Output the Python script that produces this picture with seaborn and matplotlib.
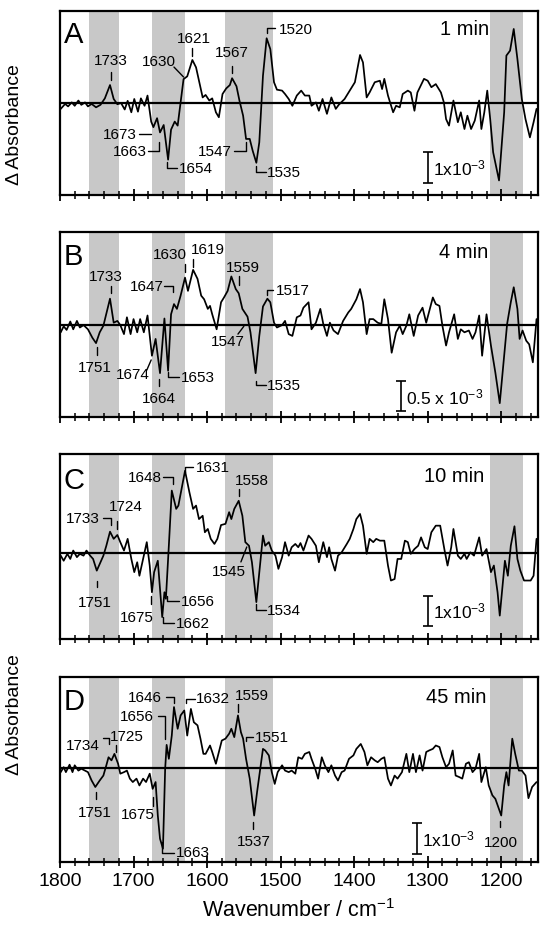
import numpy as np
import pandas as pd
import matplotlib
matplotlib.use("Agg")
import matplotlib.pyplot as plt
import seaborn as sns
from matplotlib.ticker import MultipleLocator

# ---------------- data (absorbance in units of 1e-3) ----------------
A_wn = [1799,1793,1789,1784,1780,1775,1771,1766,1762,1757,
        1751,1745,1739,1732,1727,1722,1717,1712,1708,1703,
        1699,1694,1690,1685,1681,1676,1673,1668,1664,1659,
        1653,1649,1644,1640,1632,1627,1620,1615,1611,1606,
        1602,1597,1593,1588,1584,1579,1574,1569,1566,1560,
        1556,1551,1547,1542,1538,1533,1529,1524,1519,1514,
        1509,1505,1498,1494,1489,1484,1478,1472,1467,1461,
        1458,1452,1448,1443,1437,1431,1425,1421,1413,1406,
        1399,1392,1388,1383,1379,1372,1365,1362,1359,1354,
        1347,1343,1338,1334,1327,1323,1318,1314,1305,1300,
        1295,1289,1282,1278,1275,1271,1265,1259,1255,1250,
        1246,1241,1236,1230,1227,1223,1219,1215,1211,1203,
        1196,1193,1188,1183,1178,1172,1167,1161,1156,1152]
A_val = [-0.19,-0.03,-0.11,0.02,-0.09,0.08,-0.06,0.02,-0.11,-0.03,
         -0.14,-0.06,0.15,0.58,0.13,-0.04,0.0,-0.21,0.07,-0.30,
         0.13,-0.28,0.15,-0.09,0.24,-0.60,-0.78,-0.49,-0.95,-0.71,
         -1.83,-0.86,-0.60,-0.73,0.77,0.86,1.39,1.15,0.72,0.18,
         0.26,0.08,0.15,-0.30,-0.46,0.29,0.47,0.58,0.80,0.54,
         0.08,-0.41,-1.16,-1.16,-1.54,-1.93,-1.27,0.88,2.09,1.74,
         0.67,0.43,0.40,0.29,0.13,-0.09,0.24,0.40,0.24,0.24,
         -0.09,0.02,-0.25,0.13,-0.35,0.18,-0.19,-0.06,0.13,0.40,
         0.67,1.55,1.31,0.18,0.34,0.67,0.72,0.45,0.78,0.24,
         -0.30,-0.09,-0.14,0.29,0.40,0.34,-0.25,0.34,0.78,0.72,
         0.51,0.61,0.34,0.02,-0.52,-0.73,0.08,-0.62,-0.30,-0.84,
         -0.41,-0.84,-0.57,0.08,-0.84,-0.30,0.40,-0.52,-1.59,-2.50,
         -0.30,1.53,1.69,2.39,1.42,0.13,-0.52,-1.11,-0.62,-0.19]

B_wn = [1799,1795,1791,1786,1782,1777,1773,1768,1762,1756,
        1751,1746,1741,1732,1727,1722,1718,1713,1709,1704,
        1700,1695,1691,1686,1681,1675,1670,1664,1658,1653,
        1649,1645,1641,1636,1630,1626,1619,1613,1608,1604,
        1599,1596,1593,1587,1581,1577,1572,1567,1561,1557,
        1552,1545,1541,1534,1529,1524,1518,1514,1509,1505,
        1498,1494,1489,1484,1478,1473,1469,1462,1458,1452,
        1446,1442,1437,1433,1428,1422,1415,1408,1404,1397,
        1392,1388,1383,1379,1374,1368,1363,1359,1354,1349,
        1343,1338,1334,1329,1325,1319,1313,1307,1302,1293,
        1289,1284,1280,1275,1271,1264,1259,1255,1250,1244,
        1239,1235,1230,1226,1220,1214,1208,1202,1196,1192,
        1187,1183,1178,1175,1171,1166,1162,1157,1152]
B_val = [-0.12,-0.02,-0.08,0.06,-0.07,0.07,-0.04,0.00,-0.07,-0.21,
         -0.30,-0.12,-0.01,0.44,0.04,0.07,0.00,-0.15,0.13,-0.15,
         0.10,-0.12,0.10,-0.12,0.16,-0.51,-0.23,-0.80,0.11,-0.76,
         0.18,0.35,0.27,0.49,0.79,0.57,0.92,0.77,0.49,0.43,
         0.27,0.32,0.18,-0.07,0.38,0.46,0.57,0.81,0.60,0.53,
         0.27,0.14,-0.12,-0.80,-0.18,0.31,0.44,0.38,0.04,-0.04,
         0.00,0.07,-0.15,-0.18,0.13,0.16,0.29,0.38,-0.07,0.04,
         0.27,0.02,-0.18,0.04,-0.09,-0.15,0.07,0.21,0.27,0.43,
         0.60,0.38,-0.15,0.10,0.10,0.04,0.02,0.43,0.10,-0.46,
         -0.12,-0.01,-0.15,-0.01,0.18,-0.18,0.16,0.29,0.04,0.46,
         0.35,0.32,-0.01,-0.34,-0.12,0.18,-0.23,-0.07,-0.12,-0.09,
         -0.23,-0.12,0.16,-0.51,0.18,-0.34,-0.79,-1.30,-0.51,0.02,
         0.38,0.63,0.27,-0.23,-0.09,-0.26,-0.32,-0.62,0.10]

C_wn = [1799,1795,1790,1786,1782,1777,1773,1768,1764,1759,
        1755,1750,1746,1741,1737,1732,1727,1722,1718,1713,
        1708,1703,1699,1695,1692,1687,1682,1678,1675,1672,
        1667,1664,1661,1658,1656,1652,1648,1642,1639,1630,
        1624,1619,1615,1611,1606,1603,1599,1595,1590,1586,
        1581,1575,1570,1567,1563,1557,1552,1548,1543,1539,
        1533,1529,1524,1521,1516,1512,1507,1503,1498,1494,
        1489,1485,1480,1476,1473,1469,1462,1458,1452,1448,
        1442,1437,1434,1431,1426,1422,1417,1410,1406,1401,
        1397,1392,1388,1383,1379,1374,1370,1365,1359,1354,
        1350,1345,1341,1336,1331,1327,1323,1318,1313,1309,
        1304,1300,1295,1289,1283,1277,1273,1268,1265,1259,
        1255,1250,1247,1242,1237,1230,1226,1220,1214,1210,
        1205,1202,1195,1191,1187,1182,1178,1174,1169,1160,
        1156,1152]
C_val = [-0.09,-0.26,-0.03,-0.20,0.08,-0.14,-0.03,-0.09,0.08,-0.09,
         -0.20,-0.59,-0.37,-0.09,0.24,0.71,0.47,0.60,0.36,0.08,
         0.47,-0.20,-0.64,-0.31,-0.76,-0.20,0.36,-0.42,-1.31,-0.64,
         -0.26,-1.20,-2.14,-1.31,-1.53,0.24,2.08,1.47,1.58,2.74,
         2.02,1.47,1.58,1.13,1.24,0.69,0.80,0.47,0.30,0.47,
         0.93,0.97,1.36,1.13,1.47,1.74,1.24,0.36,0.24,-0.31,
         -1.64,-0.64,0.58,0.24,0.36,0.08,-0.09,-0.53,-0.14,0.36,
         -0.09,0.19,0.30,0.19,0.33,0.08,0.58,0.47,0.24,-0.31,
         0.36,-0.14,0.19,-0.20,-0.59,-0.09,0.02,0.30,0.47,0.80,
         1.13,1.30,0.91,-0.03,0.47,0.36,0.47,0.41,0.41,-0.42,
         -0.92,-0.87,-0.20,-0.20,0.41,0.36,-0.03,0.13,0.24,0.52,
         0.19,0.13,0.69,0.91,0.91,0.08,-0.42,0.19,0.80,-0.09,
         -0.20,-0.03,-0.20,0.02,-0.09,0.52,-0.09,0.13,-0.64,-0.42,
         -1.31,-2.09,-0.26,-0.76,0.24,0.89,-0.20,-0.59,-0.92,-0.92,
         -0.76,0.47]

D_wn = [1799,1795,1792,1787,1783,1780,1775,1771,1766,1762,
        1757,1752,1746,1741,1737,1734,1730,1726,1721,1718,
        1713,1709,1705,1701,1696,1692,1687,1683,1678,1674,
        1670,1667,1664,1660,1657,1655,1652,1648,1645,1640,
        1636,1631,1627,1622,1618,1613,1609,1605,1602,1596,
        1593,1588,1584,1580,1575,1570,1567,1563,1558,1554,
        1551,1547,1542,1536,1532,1527,1524,1521,1516,1512,
        1508,1504,1498,1494,1489,1485,1480,1476,1471,1467,
        1461,1458,1453,1449,1444,1440,1435,1431,1426,1422,
        1417,1413,1407,1401,1397,1391,1386,1382,1377,1372,
        1368,1363,1359,1354,1350,1345,1341,1335,1329,1325,
        1320,1316,1311,1307,1302,1298,1293,1289,1284,1280,
        1275,1271,1266,1262,1257,1253,1248,1244,1239,1235,
        1230,1227,1221,1217,1212,1208,1204,1200,1196,1193,
        1190,1185,1181,1176,1172,1167,1163,1158,1152]
D_val = [-0.13,0.03,-0.13,0.11,-0.13,0.09,-0.08,-0.02,-0.08,-0.13,
         -0.40,-0.61,-0.40,-0.24,0.09,0.35,0.25,0.46,0.14,-0.18,
         -0.13,-0.08,-0.34,-0.45,-0.34,-0.56,-0.34,-0.45,-0.18,-0.67,
         -0.45,-1.53,-2.28,-2.60,-0.02,0.75,0.30,1.05,1.97,1.27,
         1.70,1.86,1.05,1.91,1.48,1.38,0.95,0.46,0.46,0.73,
         0.52,0.14,0.52,0.89,0.95,1.11,1.27,1.00,1.70,1.16,
         0.95,0.30,-0.34,-1.53,-0.77,0.09,0.62,0.57,0.41,-0.13,
         -0.51,-0.13,0.09,-0.08,-0.13,-0.08,-0.18,0.35,0.30,0.46,
         0.52,0.30,-0.02,-0.34,0.35,0.09,-0.13,0.09,-0.24,-0.40,
         -0.13,-0.08,0.30,0.41,0.62,0.78,0.52,0.09,0.35,0.25,
         0.19,0.30,0.35,-0.34,-0.56,-0.24,-0.34,-0.13,0.46,-0.13,
         0.46,-0.13,0.41,-0.08,0.52,0.57,0.62,0.73,0.68,0.35,
         0.03,0.14,0.57,-0.24,-0.29,-0.34,0.14,0.19,-0.13,-0.02,
         0.46,-0.45,0.03,-0.56,-0.88,-0.99,-1.26,-1.53,-0.56,-0.13,
         -0.56,0.95,0.46,-0.08,-0.08,-0.24,-0.97,-0.61,-0.45]

panel_letters = ["A", "B", "C", "D"]
time_labels = ["1 min", "4 min", "10 min", "45 min"]
scale_labels = ["1x10$^{-3}$", "0.5 x 10$^{-3}$", "1x10$^{-3}$", "1x10$^{-3}$"]
scale_sizes = [1.0, 0.5, 1.0, 1.0]
shaded_bands = [(1760, 1720), (1675, 1630), (1575, 1510), (1215, 1170)]
x_ticks = [1800, 1700, 1600, 1500, 1400, 1300, 1200]

# peak annotations: text, text x, text y, alignment, leader polyline
ann_A = [("1733", 1731, 1.39, "center", [(1731, 1.0), (1731, 0.74)]),
         ("1630", 1665, 1.35, "center", [(1645, 1.16), (1632, 0.84)]),
         ("1621", 1618, 2.10, "center", [(1620, 1.77), (1620, 1.52)]),
         ("1567", 1566, 1.65, "center", [(1566, 1.19), (1566, 0.97)]),
         ("1520", 1503, 2.39, "left", [(1519, 2.27), (1519, 2.42), (1507, 2.42)]),
         ("1673", 1695, -1.0, "right", [(1693, -1.0), (1676, -1.0)]),
         ("1663", 1682, -1.55, "right", [(1681, -1.55), (1665, -1.55), (1665, -1.26)]),
         ("1654", 1638, -2.10, "left", [(1654, -1.90), (1654, -2.10), (1641, -2.10)]),
         ("1547", 1566, -1.55, "right", [(1563.5, -1.55), (1547, -1.55), (1547, -1.26)]),
         ("1535", 1519, -2.23, "left", [(1534, -2.03), (1534, -2.23), (1520, -2.23)])]
ann_B = [("1733", 1738, 0.82, "center", [(1731, 0.65), (1731, 0.53)]),
         ("1751", 1753, -0.70, "center", [(1750, -0.37), (1750, -0.50)]),
         ("1647", 1682, 0.65, "center", [(1658, 0.65), (1647, 0.65), (1647, 0.55)]),
         ("1630", 1650, 1.18, "center", [(1630, 1.02), (1630, 0.88)]),
         ("1619", 1599, 1.27, "center", [(1619, 1.10), (1619, 0.97)]),
         ("1559", 1551, 0.97, "center", [(1557, 0.82), (1557, 0.67)]),
         ("1547", 1572, -0.27, "center", [(1558, -0.15), (1550, -0.02)]),
         ("1674", 1701, -0.82, "center", [(1682, -0.75), (1676, -0.58)]),
         ("1664", 1665, -1.22, "center", [(1665, -0.90), (1665, -1.02)]),
         ("1653", 1635, -0.87, "left", [(1653, -0.78), (1653, -0.87), (1638, -0.87)]),
         ("1535", 1519, -1.0, "left", [(1534, -0.93), (1534, -1.0), (1520, -1.0)]),
         ("1517", 1507, 0.58, "left", [(1518, 0.50), (1518, 0.58), (1510, 0.58)])]
ann_C = [("1733", 1769, 1.17, "center", [(1742, 1.17), (1731, 1.17), (1731, 0.93)]),
         ("1724", 1710, 1.57, "center", [(1723, 1.07), (1723, 0.80)]),
         ("1751", 1753, -1.63, "center", [(1750, -0.93), (1750, -1.13)]),
         ("1648", 1685, 2.53, "center", [(1660, 2.53), (1647, 2.53), (1647, 2.30)]),
         ("1631", 1615, 2.87, "left", [(1630, 2.70), (1630, 2.87), (1619, 2.87)]),
         ("1558", 1539, 2.43, "center", [(1557, 2.13), (1557, 1.90)]),
         ("1545", 1570, -0.60, "center", [(1554, -0.30), (1546, 0.20)]),
         ("1675", 1695, -2.13, "center", [(1676, -1.43), (1676, -1.70)]),
         ("1656", 1635, -1.60, "left", [(1654, -1.43), (1654, -1.60), (1638, -1.60)]),
         ("1662", 1642, -2.33, "left", [(1660, -2.13), (1660, -2.33), (1645, -2.33)]),
         ("1534", 1519, -1.90, "left", [(1534, -1.70), (1534, -1.90), (1520, -1.90)])]
ann_D = [("1734", 1769, 0.74, "center", [(1742, 0.97), (1734, 0.97), (1734, 0.77)]),
         ("1725", 1709, 1.04, "center", [(1724, 0.74), (1724, 0.52)]),
         ("1751", 1753, -1.41, "center", [(1751, -0.76), (1751, -1.00)]),
         ("1675", 1694, -1.48, "center", [(1674, -0.94), (1674, -1.23)]),
         ("1646", 1685, 2.28, "center", [(1656, 2.28), (1645, 2.28), (1645, 2.10)]),
         ("1656", 1696, 1.67, "center", [(1667, 1.67), (1657, 1.67), (1657, 0.94)]),
         ("1632", 1615, 2.25, "left", [(1629, 2.10), (1629, 2.23), (1616, 2.23)]),
         ("1559", 1539, 2.35, "center", [(1558, 2.06), (1558, 1.82)]),
         ("1551", 1535, 0.99, "left", [(1547, 0.88), (1547, 0.99), (1537, 0.99)]),
         ("1537", 1537, -2.34, "center", [(1537, -1.73), (1537, -1.95)]),
         ("1663", 1643, -2.71, "left", [(1661, -2.39), (1661, -2.74), (1645, -2.74)]),
         ("1200", 1201, -2.37, "center", [(1201, -1.70), (1201, -1.91)])]

# ---------------- layout ----------------
sns.set_style("ticks")
plt.rcParams["font.family"] = ["Liberation Sans", "DejaVu Sans"]
plt.rcParams["mathtext.fontset"] = "custom"
plt.rcParams["mathtext.rm"] = "Liberation Sans"
plt.rcParams["mathtext.default"] = "regular"
plt.rcParams["text.color"] = "black"
plt.rcParams["axes.labelcolor"] = "black"
plt.rcParams["xtick.color"] = "black"
plt.rcParams["xtick.labelcolor"] = "black"
plt.rcParams["axes.edgecolor"] = "black"

W, H = 542, 928
fig = plt.figure(figsize=(W / 100, H / 100), dpi=100)

spectra = [(A_wn, A_val), (B_wn, B_val), (C_wn, C_val), (D_wn, D_val)]
annots = [ann_A, ann_B, ann_C, ann_D]
boxes_px = [(12, 196), (233, 418), (455, 640), (678, 863)]
ylims = [(-2.97, 2.97), (-1.53, 1.55), (-2.87, 3.30), (-3.03, 2.94)]
time_pos = [(1216, 2.39), (1218, 1.22), (1223, 2.57), (1220, 2.32)]
scale_pos = [(1300, -2.08), (1336.5, -1.18), (1300, -1.93), (1315, -2.27)]
letter_y = [0.95, 0.945, 0.935, 0.945]

left_px, right_px = 60, 538
for i, ((wn, val), (top, bot)) in enumerate(zip(spectra, boxes_px)):
    ax = fig.add_axes([left_px / W, 1 - bot / H, (right_px - left_px) / W, (bot - top) / H])
    for b0, b1 in shaded_bands:
        ax.axvspan(b0, b1, color="#c8c8c8", lw=0, zorder=0)
    ax.axhline(0, color="black", lw=1.6, zorder=2)
    df = pd.DataFrame({"wn": wn, "val": val})
    sns.lineplot(data=df, x="wn", y="val", ax=ax, color="black", lw=1.25,
                 estimator=None, sort=True, zorder=3)
    ax.set_xlim(1800, 1150)
    ax.set_ylim(*ylims[i])
    ax.set_yticks([])
    ax.set_ylabel("")
    ax.set_xticks(x_ticks)
    ax.xaxis.set_minor_locator(MultipleLocator(20))
    ax.tick_params(axis="x", which="major", direction="inout", length=9, width=1.3,
                   labelsize=14, pad=3, color="black", labelcolor="black")
    ax.tick_params(axis="x", which="minor", direction="inout", length=6, width=1.1,
                   color="black")
    for s in ax.spines.values():
        s.set_linewidth(1.6)
        s.set_color("black")
    if i < 3:
        ax.set_xticklabels([])
        ax.set_xlabel("")
    else:
        ax.set_xlabel("Wavenumber / cm$^{-1}$", fontsize=15.5, labelpad=6,
                      color="black")

    # panel letter and time label
    ax.text(0.008, letter_y[i], panel_letters[i], transform=ax.transAxes,
            fontsize=21, ha="left", va="top", color="black")
    tx, ty = time_pos[i]
    ax.text(tx, ty, time_labels[i], fontsize=14.5, ha="right", va="center",
            color="black")

    # scale bar
    sx, sy = scale_pos[i]
    ax.errorbar([sx], [sy], yerr=[scale_sizes[i] / 2], color="black", capsize=3.5,
                elinewidth=1.2, capthick=1.2, fmt="none")
    ax.text(sx - 7, sy, scale_labels[i], fontsize=12.5, ha="left", va="center",
            color="black")

    # peak annotations
    for text, x, y, ha, seg in annots[i]:
        ax.text(x, y, text, fontsize=11, ha=ha, va="center", color="black")
        xs, ys = zip(*seg)
        ax.plot(xs, ys, color="black", lw=1.0)

for yc in (125, 715):
    fig.text(15 / W, 1 - yc / H, "\u0394 Absorbance", rotation=90,
             ha="center", va="center", fontsize=14, color="black")

fig.savefig("out.png", dpi=100)
